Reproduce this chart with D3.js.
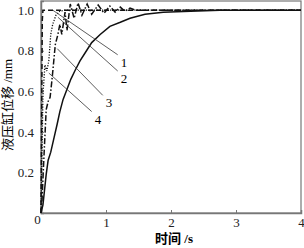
<!DOCTYPE html>
<html>
<head>
<meta charset="utf-8">
<script src="https://cdn.jsdelivr.net/npm/d3@7"></script>
<style>
  body { margin: 0; background: #fff; }
  svg { display: block; }
  .tick text { font-family: "Liberation Serif", "Times New Roman", serif; font-size: 13px; fill: #222; }
</style>
</head>
<body>
<script>
// curves: [time (s), displacement (mm)]
var curve1 = [[0,0],[0.01,0.5],[0.02,0.95],[0.03,1.0],[4,1.0]];
var curve2 = [[0,0],[0.015,0.3],[0.03,0.58],[0.06,0.73],[0.09,0.70],[0.12,0.75],[0.15,0.88],
  [0.18,0.93],[0.23,0.975],[0.29,0.995],[0.37,1.0],[4,1.0]];
var curve3 = [[0,0],[0.015,0.06],[0.05,0.31],[0.08,0.51],[0.11,0.55],[0.14,0.57],[0.17,0.66],
  [0.22,0.83],[0.26,0.88],[0.29,0.93],[0.32,0.88],[0.37,0.99],[0.40,0.90],[0.45,1.03],
  [0.51,0.96],[0.57,1.035],[0.63,0.975],[0.71,1.03],[0.78,0.98],[0.88,1.025],[0.97,0.985],
  [1.06,1.02],[1.14,0.99],[1.22,1.015],[1.29,0.995],[1.37,1.01],[1.45,1.0],[4,1.0]];
var curve4 = [[0,0],[0.03,0.04],[0.08,0.19],[0.11,0.26],[0.15,0.30],[0.2,0.37],[0.25,0.44],
  [0.29,0.50],[0.34,0.56],[0.4,0.61],[0.46,0.66],[0.52,0.70],[0.6,0.75],[0.68,0.79],
  [0.78,0.84],[0.91,0.88],[1.06,0.92],[1.22,0.94],[1.37,0.96],[1.6,0.98],[1.88,0.99],
  [2.3,0.995],[2.75,1.0],[4,1.0]];

// leader lines: start point, end point, label
var leaders = [
  {from: [0.18, 1.0], to: [1.18, 0.78], label: "1"},
  {from: [0.26, 0.965], to: [1.18, 0.70], label: "2"},
  {from: [0.25, 0.81], to: [0.95, 0.58], label: "3"},
  {from: [0.12, 0.69], to: [0.78, 0.50], label: "4"}
];

var xTicks = [0, 1, 2, 3, 4];
var yTicks = [0, 0.2, 0.4, 0.6, 0.8, 1.0];

var margin = {top: 1, right: 3, bottom: 35, left: 41},
    width = 304 - margin.left - margin.right,
    height = 248 - margin.top - margin.bottom;

var svg = d3.select("body").append("svg")
    .attr("width", 304)
    .attr("height", 248)
  .append("g")
    .attr("transform", "translate(" + margin.left + "," + margin.top + ")");

var x = d3.scaleLinear().domain([0, 4]).range([0, width]);
var y = d3.scaleLinear().domain([0, 1.045]).range([height, 0]);

// frame
svg.append("rect")
    .attr("width", width)
    .attr("height", height)
    .attr("fill", "none")
    .attr("stroke", "#777")
    .attr("stroke-width", 1.2);

// x axis
var gx = svg.append("g")
    .attr("transform", "translate(0," + height + ")")
    .call(d3.axisBottom(x).tickValues(xTicks).tickSize(-3).tickPadding(5).tickFormat(d3.format("d")));
gx.select(".domain").attr("stroke", "#777").attr("stroke-width", 1.5);
gx.selectAll(".tick line").attr("stroke", "#777");
gx.selectAll(".tick text").filter(function(d) { return d === 0; }).attr("dx", -4).attr("y", 2);

// y axis
var gy = svg.append("g")
    .call(d3.axisLeft(y).tickValues(yTicks.slice(1)).tickSize(-3).tickPadding(7).tickFormat(d3.format(".1f")));
gy.select(".domain").attr("stroke", "#777").attr("stroke-width", 1.5);
gy.selectAll(".tick line").attr("stroke", "#777");

// axis titles
svg.append("text")
    .attr("x", width / 2 + 3)
    .attr("y", height + 30)
    .attr("text-anchor", "middle")
    .style("font-family", "'Liberation Serif', 'Noto Sans CJK SC', serif")
    .style("font-size", "13px")
    .style("font-weight", "bold")
    .text("时间 /s");

svg.append("text")
    .attr("transform", "translate(-29," + (height / 2 - 2) + ") rotate(-90)")
    .attr("text-anchor", "middle")
    .style("font-family", "'Liberation Serif', 'Noto Sans CJK SC', serif")
    .style("font-size", "13px")
    .text("液压缸位移 /mm");

var line = d3.line()
    .x(function(d) { return x(d[0]); })
    .y(function(d) { return y(d[1]); });

var styles = [
  {data: curve4, dash: null, w: 1.5},
  {data: curve3, dash: "6,2,1.5,2", w: 1.5},
  {data: curve2, dash: "1.2,1.5", w: 1.3},
  {data: curve1, dash: "5,3", w: 1.5}
];

styles.forEach(function(s) {
  svg.append("path")
      .datum(s.data)
      .attr("d", line)
      .attr("fill", "none")
      .attr("stroke", "#111")
      .attr("stroke-width", s.w)
      .attr("stroke-dasharray", s.dash);
});

// leader lines and labels
leaders.forEach(function(l) {
  svg.append("line")
      .attr("x1", x(l.from[0])).attr("y1", y(l.from[1]))
      .attr("x2", x(l.to[0])).attr("y2", y(l.to[1]))
      .attr("stroke", "#333")
      .attr("stroke-width", 0.8);
  svg.append("text")
      .attr("x", x(l.to[0]) + 3)
      .attr("y", y(l.to[1]) + 12)
      .style("font-family", "'Liberation Serif', serif")
      .style("font-size", "13px")
      .text(l.label);
});
</script>
</body>
</html>
